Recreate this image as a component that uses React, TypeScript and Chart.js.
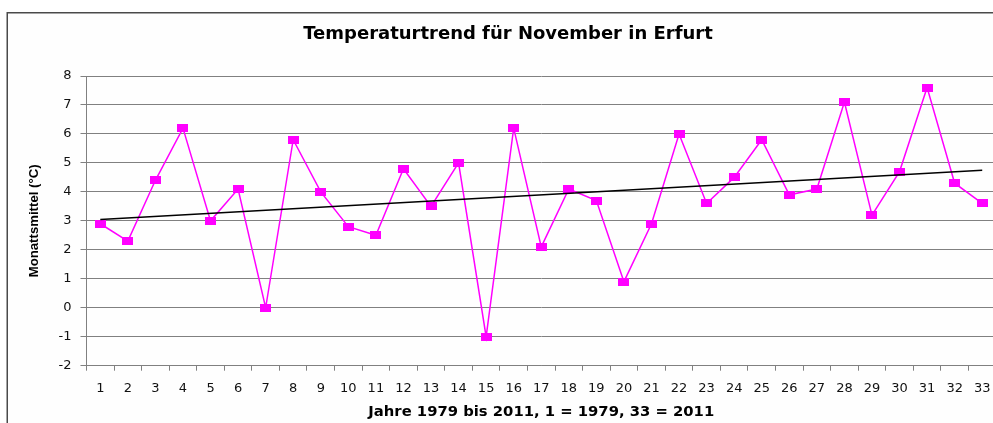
import React, { useEffect, useRef } from "react";
import { Chart, registerables } from "chart.js";

Chart.register(...registerables);

const TITLE = "Temperaturtrend für November in Erfurt";
const X_TITLE = "Jahre 1979 bis 2011, 1 = 1979, 33 = 2011";
const Y_TITLE = "Monattsmittel (°C)";

const yearIndex = [
  "1", "2", "3", "4", "5", "6", "7", "8", "9", "10", "11", "12", "13", "14", "15", "16", "17",
  "18", "19", "20", "21", "22", "23", "24", "25", "26", "27", "28", "29", "30", "31", "32", "33",
];

const novemberMeans = [
  2.9, 2.3, 4.4, 6.2, 3.0, 4.1, 0.0, 5.8, 4.0, 2.8, 2.5, 4.8, 3.5, 5.0, -1.0, 6.2, 2.1,
  4.1, 3.7, 0.9, 2.9, 6.0, 3.6, 4.5, 5.8, 3.9, 4.1, 7.1, 3.2, 4.7, 7.6, 4.3, 3.6,
];

const trendX = ["1", "33"];
const trendY = [3.05, 4.75];

const Y_MIN = -2;
const Y_MAX = 8;
const Y_STEP = 1;

const W = 1016;
const H = 423;

function makeMarker(): HTMLCanvasElement {
  const c = document.createElement("canvas");
  c.width = 11;
  c.height = 8;
  const g = c.getContext("2d")!;
  g.fillStyle = "#ff00ff";
  g.fillRect(0, 0, 11, 8);
  return c;
}

const framePlugin = {
  id: "frame",
  beforeDraw(chart: any) {
    const ctx = chart.ctx;
    ctx.save();
    ctx.fillStyle = "#ffffff";
    ctx.fillRect(0, 0, chart.width, chart.height);
    ctx.fillStyle = "#fefefe";
    ctx.fillRect(7, 12.5, chart.width, chart.height);
    ctx.strokeStyle = "#4a4a4a";
    ctx.lineWidth = 1.5;
    ctx.strokeRect(7.25, 12.75, chart.width + 50, chart.height + 50);
    ctx.restore();
  },
};

export default function App() {
  const ref = useRef<HTMLCanvasElement | null>(null);

  useEffect(() => {
    if (!ref.current) return;
    const marker = makeMarker();
    const chart = new Chart(ref.current, {
      type: "line",
      data: {
        labels: yearIndex,
        datasets: [
          {
            label: "Trend",
            data: trendX.map((x, i) => ({ x, y: trendY[i] })) as any,
            borderColor: "#000000",
            borderWidth: 1.5,
            pointRadius: 0,
            fill: false,
            tension: 0,
          },
          {
            label: "Monatsmittel",
            data: novemberMeans,
            borderColor: "#ff00ff",
            backgroundColor: "#ff00ff",
            borderWidth: 1.5,
            pointStyle: marker as any,
            pointRadius: 5,
            fill: false,
            tension: 0,
          },
        ],
      },
      options: {
        responsive: false,
        animation: false,
        layout: { padding: 0 },
        plugins: {
          legend: { display: false },
          tooltip: { enabled: false },
          title: {
            display: true,
            text: TITLE,
            color: "#000000",
            font: { family: "'DejaVu Sans'", size: 18, weight: "bold" },
            padding: { top: 24, bottom: 30.4 },
          },
        },
        scales: {
          x: {
            type: "category",
            offset: true,
            grid: {
              offset: true,
              drawOnChartArea: false,
              drawTicks: true,
              tickLength: 5,
              color: "#808080",
            },
            border: { color: "#808080" },
            ticks: {
              autoSkip: false,
              maxRotation: 0,
              padding: 10,
              color: "#111111",
              font: { family: "'DejaVu Sans'", size: 13 },
            },
            title: {
              display: true,
              text: X_TITLE,
              color: "#000000",
              font: { family: "'DejaVu Sans'", size: 14.8, weight: "bold" },
              padding: { top: 4, bottom: 2 },
            },
            afterFit: (s: any) => {
              s.height = 57.3;
            },
          },
          y: {
            type: "linear",
            min: Y_MIN,
            max: Y_MAX,
            ticks: {
              stepSize: Y_STEP,
              padding: 9,
              color: "#111111",
              font: { family: "'DejaVu Sans'", size: 13 },
            },
            grid: { color: "#808080", tickLength: 6 },
            border: { color: "#808080" },
            title: {
              display: true,
              text: Y_TITLE,
              color: "#000000",
              font: { family: "'Liberation Sans'", size: 13.2, weight: "bold" },
              padding: { top: 26.5, bottom: 0 },
            },
            afterFit: (s: any) => {
              s.width = 86.5;
            },
          },
          yRight: {
            type: "linear",
            position: "right",
            display: true,
            grid: { display: false },
            ticks: { display: false },
            border: { display: false },
            afterFit: (s: any) => {
              s.width = 20;
            },
          },
        },
      },
      plugins: [framePlugin],
    });
    return () => chart.destroy();
  }, []);

  return (
    <div style={{ position: "absolute", left: 0, top: 0, width: W, height: H }}>
      <canvas ref={ref} width={W} height={H} style={{ display: "block", width: W, height: H }} />
    </div>
  );
}
